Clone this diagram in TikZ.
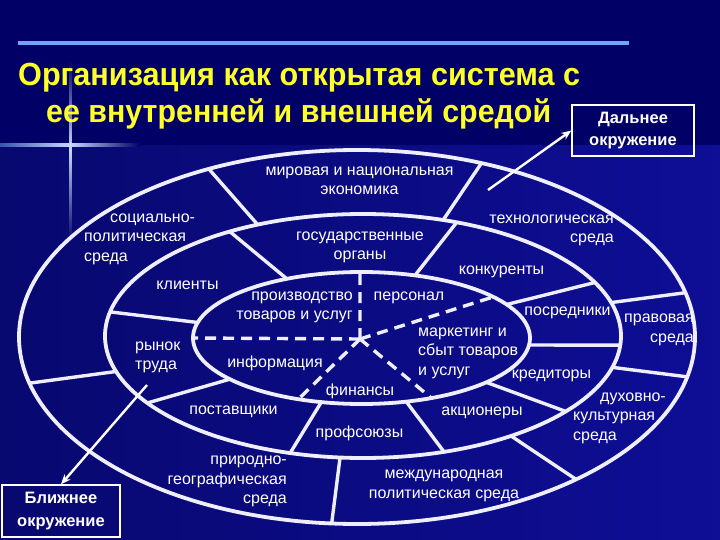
\documentclass[tikz,border=0pt]{standalone}
\usepackage{fontspec}
\setmainfont{Liberation Sans}
\usepackage{graphicx}
\usetikzlibrary{arrows.meta}
\definecolor{bgtop}{RGB}{0,0,102}
\definecolor{bgleft}{RGB}{8,8,112}
\definecolor{bgright}{RGB}{14,14,150}
\definecolor{ringc}{RGB}{238,238,255}
\definecolor{titley}{RGB}{255,255,40}
\definecolor{rulec}{RGB}{110,165,250}
\definecolor{glow}{RGB}{200,215,255}
\newcommand\onO[2]{\path (O) ++(#2:338 and 187) coordinate (#1);}
\newcommand\onM[2]{\path (M) ++(#2:258 and 122) coordinate (#1);}
\newcommand\onI[2]{\path (I) ++(#2:168.5 and 66) coordinate (#1);}
\begin{document}
\begin{tikzpicture}[x=1pt,y=-1pt,
  ring/.style={draw=ringc,line width=3.8pt},
  divider/.style={draw=ringc,line width=3.4pt},
  dashline/.style={draw=ringc,line width=3.4pt,dash pattern=on 11pt off 7pt},
  lbl/.style={text=white,inner sep=0pt,font=\fontsize{16}{19.5}\selectfont},
  boxlbl/.style={draw=white,line width=1.3pt,text=white,font=\fontsize{16.5}{22.5}\selectfont\bfseries,align=center,inner sep=0pt,minimum width=122pt,minimum height=51pt},
  arr/.style={draw=white,line width=2.4pt,-{Stealth[length=10pt,width=8pt]}},
  ttl/.style={inner sep=0pt,anchor=base west,text=titley,font=\fontsize{32}{36}\selectfont\bfseries},
]
\useasboundingbox (0,0) rectangle (720,540);
% background
\fill[bgtop] (0,0) rectangle (720,540);
\shade[left color=bgleft, right color=bgright] (0,146) rectangle (720,540);
% sparkle
\shade[top color=bgtop, bottom color=bgleft, middle color=glow] (69,60) rectangle (71.5,240);
\shade[left color=rulec!50!bgtop, right color=bgtop, middle color=glow] (0,143.5) rectangle (140,146.5);
% rule
\draw[rulec, line width=4pt] (18,43) -- (629,43);
% title
\node[ttl] (t1) at (18,86) {\resizebox{562pt}{\height}{Организация как открытая система с}};
\node[ttl] (t2) at (46,123) {\resizebox{505pt}{\height}{ее внутренней и внешней средой}};
% ellipses
\coordinate (O) at (357,337);
\coordinate (M) at (363,336);
\coordinate (I) at (361.5,338);
\coordinate (C) at (360,339);
\draw[ring] (O) ellipse [x radius=338, y radius=187];
\draw[ring] (M) ellipse [x radius=258, y radius=122];
\draw[ring] (I) ellipse [x radius=168.5, y radius=66];
% outer dividers
\onO{o1}{-116}\onM{om1}{-114.1}
\onO{o2}{-68.4}\onM{om2}{-71.9}
\onO{o3}{-13.7}\onM{om3}{-15.9}
\onO{o4}{12.3}\onM{om4}{14.9}
\onO{o5}{49.6}\onM{om5}{55}
\onO{o6}{94.3}\onM{om6}{95.1}
\onO{o7}{165.7}\onM{om7}{163.1}
\foreach \k in {1,...,7}{\draw[divider] (o\k) -- (om\k);}
% middle dividers
\onM{m1}{-121.1}\onI{mi1}{-116.3}
\onM{m2}{-168.6}\onI{mi2}{-166.4}
\onM{m3}{146.7}\onI{mi3}{141.4}
\onM{m4}{106.4}\onI{mi4}{103.8}
\onM{m5}{71.7}\onI{mi5}{74.6}
\onM{m6}{38.2}\onI{mi6}{42.2}
\onM{m7}{4.3}\onI{mi7}{6.1}
\onM{m8}{-26}\onI{mi8}{-30.5}
\onM{m9}{-68.7}\onI{mi9}{-71.5}
\foreach \k in {1,...,9}{\draw[divider] (m\k) -- (mi\k);}
% inner dashed lines
\onI{d1}{-90.5}\onI{d2}{180}\onI{d3}{-38.5}\onI{d4}{112}\onI{d5}{65.5}
\foreach \k in {1,...,5}{\draw[dashline] (C) -- (d\k);}
% labels
\node[lbl,align=center] (world) at (359.5,181) {мировая и национальная\\экономика};
\node[lbl,align=left,anchor=west] (social) at (84,239) {\hspace*{26pt}социально-\\политическая\\среда};
\node[lbl,align=right,anchor=east] (tech) at (614,230.5) {технологическая\\среда};
\node[lbl,align=center] (gov) at (360,247.5) {государственные\\органы};
\node[lbl] (konk) at (501.5,272) {конкуренты};
\node[lbl] (klient) at (187.5,285) {клиенты};
\node[lbl,align=right,anchor=east] (proizv) at (353,307.5) {производство\\товаров и услуг};
\node[lbl] (person) at (409,298) {персонал};
\node[lbl] (posred) at (567.5,313) {посредники};
\node[lbl,align=right,anchor=east] (pravo) at (694,330) {правовая\\среда};
\node[lbl,align=left,anchor=west] (rynok) at (135,357.5) {рынок\\труда};
\node[lbl,align=left,anchor=west] (market) at (418,353) {маркетинг и\\сбыт товаров\\и услуг};
\node[lbl] (inform) at (275,363) {информация};
\node[lbl] (kredit) at (551.5,376) {кредиторы};
\node[lbl] (finans) at (360,391) {финансы};
\node[lbl,align=left,anchor=west] (dukh) at (573,418) {\hspace*{27pt}духовно-\\культурная\\среда};
\node[lbl] (postav) at (233.5,412) {поставщики};
\node[lbl] (akcion) at (482,413) {акционеры};
\node[lbl] (profs) at (359.5,433) {профсоюзы};
\node[lbl,align=right,anchor=east] (prirod) at (287,481.5) {природно-\\географическая\\среда};
\node[lbl,align=center] (mezhd) at (444,486) {международная\\политическая среда};
% boxes and arrows
\node[boxlbl] (far) at (633,130.5) {Дальнее\\окружение};
\coordinate (farfrom) at (488,190);
\draw[arr] (farfrom) -- (far.west);
\node[boxlbl,minimum width=118pt,minimum height=52pt] (near) at (61,511) {Ближнее\\окружение};
\coordinate (nearfrom) at (147,385);
\draw[arr] (nearfrom) -- (near.north);
\end{tikzpicture}
\end{document}
